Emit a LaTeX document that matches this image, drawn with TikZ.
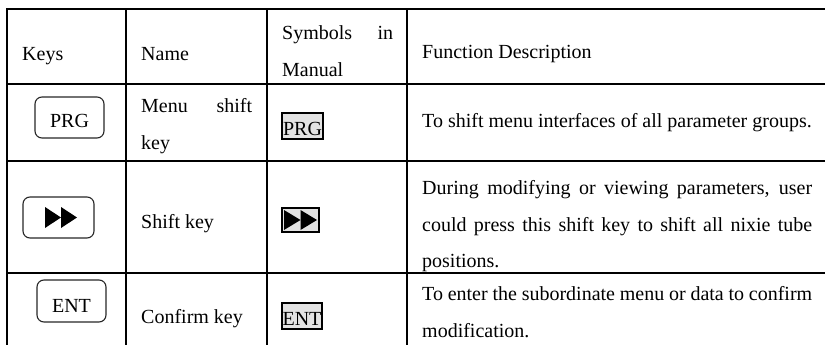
\documentclass[tikz,border=0pt]{standalone}
\usepackage{fontspec}
\setmainfont{Liberation Serif}
\newcommand\jline[2]{\makebox[#1][s]{#2}}
\begin{document}
\begin{tikzpicture}[x=1pt,y=-1pt,
  txt/.style={anchor=base west,inner sep=0pt,font=\fontsize{20}{24}\selectfont},
  ctxt/.style={anchor=base,inner sep=0pt,font=\fontsize{20}{24}\selectfont},
  rule/.style={line width=2pt,line cap=rect},
  keybox/.style={draw=black!85,line width=1.1pt,rounded corners=7pt},
  symbox/.style={draw=black,line width=2pt,fill=black!11},
  tri/.style={fill=black}]
\useasboundingbox (0,0) rectangle (825,345);
% table rules
\foreach \yy in {9,84,161,273} \draw[rule] (7,\yy) -- (840,\yy);
\foreach \xx in {7,126,267,407} \draw[rule] (\xx,9) -- (\xx,360);
% header
\node[txt] (hkeys) at (22,60) {Keys};
\node[txt] (hname) at (141,60) {Name};
\node[txt] (hsym1) at (282,40) {\jline{111pt}{Symbols in}};
\node[txt] (hsym2) at (282,77) {Manual};
\node[txt] (hfun) at (422,59) {Function Description};
% row 1
\draw[keybox] (35,97) rectangle (104,138);
\node[ctxt] (kprg) at (69.5,128) {PRG};
\node[txt] (n1a) at (141,112) {\jline{111pt}{Menu shift}};
\node[txt] (n1b) at (141,149) {key};
\fill[black!11] (282,113) rectangle (323,139);
\node[ctxt] (sprg) at (302.5,135) {PRG};
\draw[symbox,fill=none] (282,113) rectangle (323,139);
\node[txt] (d1) at (422,127) {To shift menu interfaces of all parameter groups.};
% row 2
\draw[keybox] (23,197) rectangle (94,238);
\fill[tri] (45,207) -- (61,217.5) -- (45,228) -- cycle;
\fill[tri] (61,207) -- (77,217.5) -- (61,228) -- cycle;
\node[txt] (n2) at (141,228) {Shift key};
\draw[symbox] (282,208) rectangle (319,232);
\fill[tri] (284,210) -- (300.5,220) -- (284,230) -- cycle;
\fill[tri] (300.5,210) -- (317,220) -- (300.5,230) -- cycle;
\node[txt] (d2a) at (422,194) {\jline{390pt}{During modifying or viewing parameters, user}};
\node[txt] (d2b) at (422,231) {\jline{390pt}{could press this shift key to shift all nixie tube}};
\node[txt] (d2c) at (422,267) {positions.};
% row 3
\draw[keybox] (37,280) rectangle (106,322);
\node[ctxt] (kent) at (71.5,312) {ENT};
\node[txt] (n3) at (141,323) {Confirm key};
\fill[black!11] (282,303) rectangle (322,329);
\node[ctxt] (sent) at (302,325) {ENT};
\draw[symbox,fill=none] (282,303) rectangle (322,329);
\node[txt] (d3a) at (422,300) {\jline{390pt}{To enter the subordinate menu or data to confirm}};
\node[txt] (d3b) at (422,337) {modification.};
\end{tikzpicture}
\end{document}
